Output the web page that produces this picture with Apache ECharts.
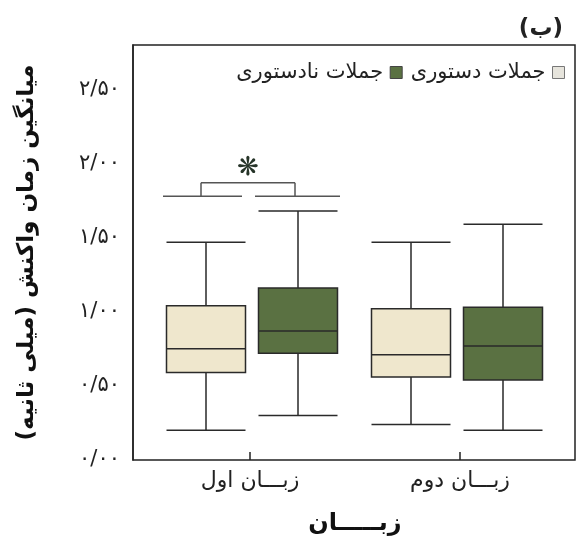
<!DOCTYPE html>
<html>
<head>
<meta charset="utf-8">
<script src="https://cdn.jsdelivr.net/npm/echarts@6/dist/echarts.min.js"></script>
<style>
html,body{margin:0;padding:0;background:#fff;}
#c{width:580px;height:542px;}
</style>
</head>
<body>
<div id="c"></div>
<script>
// ---- data ----
var categories = ['زبـــان اول', 'زبـــان دوم'];
var seriesNames = ['جملات دستوری', 'جملات نادستوری'];
// [min, Q1, median, Q3, max]
var grammatical = [[0.20, 0.59, 0.75, 1.04, 1.47], [0.24, 0.56, 0.71, 1.02, 1.47]];
var ungrammatical = [[0.30, 0.72, 0.87, 1.16, 1.68], [0.20, 0.54, 0.77, 1.03, 1.59]];
var yTicks = [0, 0.5, 1.0, 1.5, 2.0, 2.5];
var sigLevels = [1.78, 1.87]; // bracket heights
var sigCategory = 0;

var FONT = "'DejaVu Sans', sans-serif";
var RLM = '\u200F';
var colors = { gram: '#efe7cd', ungram: '#5a7142', border: '#2a2a2a' };
function fa(v) {
  var s = v.toFixed(2).replace('.', '/');
  return s.replace(/[0-9]/g, function (d) { return '۰۱۲۳۴۵۶۷۸۹'[+d]; });
}
var yMin = 0, yMax = 2.8;
var hiddenY = function (i) {
  return { gridIndex: i, type: 'value', min: yMin, max: yMax, interval: 0.5, show: false };
};
var hiddenX = function (i, gap) {
  return { gridIndex: i, type: 'category', data: categories, boundaryGap: gap, show: false };
};

var chart = echarts.init(document.getElementById('c'), null, { renderer: 'canvas' });
var option = {
  backgroundColor: '#ffffff',
  animation: false,
  title: {
    text: RLM + '(ب)' + RLM,
    right: 12, top: 13,
    textStyle: { fontFamily: FONT, fontSize: 23, fontWeight: 'bold', color: '#222' }
  },
  legend: {
    data: [
      { name: seriesNames[1], itemStyle: { color: colors.ungram, borderColor: '#444', borderWidth: 1 } },
      { name: seriesNames[0], itemStyle: { color: '#e6e4dc', borderColor: '#777', borderWidth: 1 } }
    ],
    right: 10, top: 57,
    align: 'right',
    icon: 'rect',
    itemWidth: 12, itemHeight: 12, itemGap: 8,
    textStyle: { fontFamily: FONT, fontSize: 21, color: '#222', padding: [0, 2, 0, 0] }
  },
  grid: [
    { left: 133, right: 5, top: 45, bottom: 82, show: true, borderColor: '#222', borderWidth: 1.5, backgroundColor: 'transparent' },
    { left: 206, width: 205, top: 45, bottom: 82 },
    { left: 298, width: 205, top: 45, bottom: 82 },
    { left: 145, width: 420, top: 45, bottom: 82 }
  ],
  xAxis: [
    hiddenX(0, true), hiddenX(1, false), hiddenX(2, false),
    {
      gridIndex: 3, type: 'category', data: categories,
      axisLine: { show: false },
      axisTick: { show: true, inside: true, alignWithLabel: true, length: 8, lineStyle: { color: '#222', width: 1.5 } },
      axisLabel: { fontFamily: FONT, fontSize: 22, color: '#222', margin: 10 },
      name: 'زبـــــان', nameLocation: 'middle', nameGap: 52,
      nameTextStyle: { fontFamily: FONT, fontSize: 24, fontWeight: 'bold', color: '#111' }
    }
  ],
  yAxis: [
    {
      gridIndex: 0, type: 'value', min: yMin, max: yMax, interval: 0.5,
      axisLine: { show: true, lineStyle: { color: '#222', width: 1.5 } },
      axisTick: { show: false },
      splitLine: { show: false },
      axisLabel: {
        fontFamily: FONT, fontSize: 21, color: '#222', margin: 13,
        formatter: function (v) {
          for (var i = 0; i < yTicks.length; i++) if (Math.abs(yTicks[i] - v) < 1e-6) return fa(v);
          return '';
        }
      },
      name: 'میانگین زمان واکنش (میلی ثانیه)' + RLM,
      nameLocation: 'middle', nameGap: 94,
      nameTextStyle: { fontFamily: FONT, fontSize: 23, fontWeight: 'bold', color: '#111' }
    },
    hiddenY(1), hiddenY(2), hiddenY(3)
  ],
  series: [
    {
      name: seriesNames[0], type: 'boxplot', xAxisIndex: 1, yAxisIndex: 1,
      boxWidth: [79, 79],
      itemStyle: { color: colors.gram, borderColor: colors.border, borderWidth: 1.5 },
      data: grammatical
    },
    {
      name: seriesNames[1], type: 'boxplot', xAxisIndex: 2, yAxisIndex: 2,
      boxWidth: [79, 79],
      itemStyle: { color: colors.ungram, borderColor: colors.border, borderWidth: 1.5 },
      data: ungrammatical
    }
  ]
};
chart.setOption(option);

// significance bracket derived from the axes' scales
var pA = chart.convertToPixel({ gridIndex: 1 }, [sigCategory, sigLevels[0]]);
var pB = chart.convertToPixel({ gridIndex: 2 }, [sigCategory, sigLevels[0]]);
var pTop = chart.convertToPixel({ gridIndex: 1 }, [sigCategory, sigLevels[1]]);
var hw = 40;
var lineStyle = { stroke: '#555', lineWidth: 1.5 };
chart.setOption({
  graphic: [
    { type: 'line', shape: { x1: pA[0] - hw - 3, y1: pA[1], x2: pA[0] + hw - 4, y2: pA[1] }, style: lineStyle },
    { type: 'line', shape: { x1: pB[0] - hw - 3, y1: pB[1], x2: pB[0] + hw + 2, y2: pB[1] }, style: lineStyle },
    { type: 'line', shape: { x1: pA[0] - 5, y1: pA[1], x2: pA[0] - 5, y2: pTop[1] }, style: lineStyle },
    { type: 'line', shape: { x1: pB[0] - 3, y1: pB[1], x2: pB[0] - 3, y2: pTop[1] }, style: lineStyle },
    { type: 'line', shape: { x1: pA[0] - 5, y1: pTop[1], x2: pB[0] - 3, y2: pTop[1] }, style: lineStyle },
    { type: 'text', x: (pA[0] + pB[0]) / 2 - 4, y: pTop[1] - 15,
      style: { text: '❋', font: '26px ' + FONT, fill: '#263428', align: 'center', verticalAlign: 'middle' } }
  ]
});
</script>
</body>
</html>
